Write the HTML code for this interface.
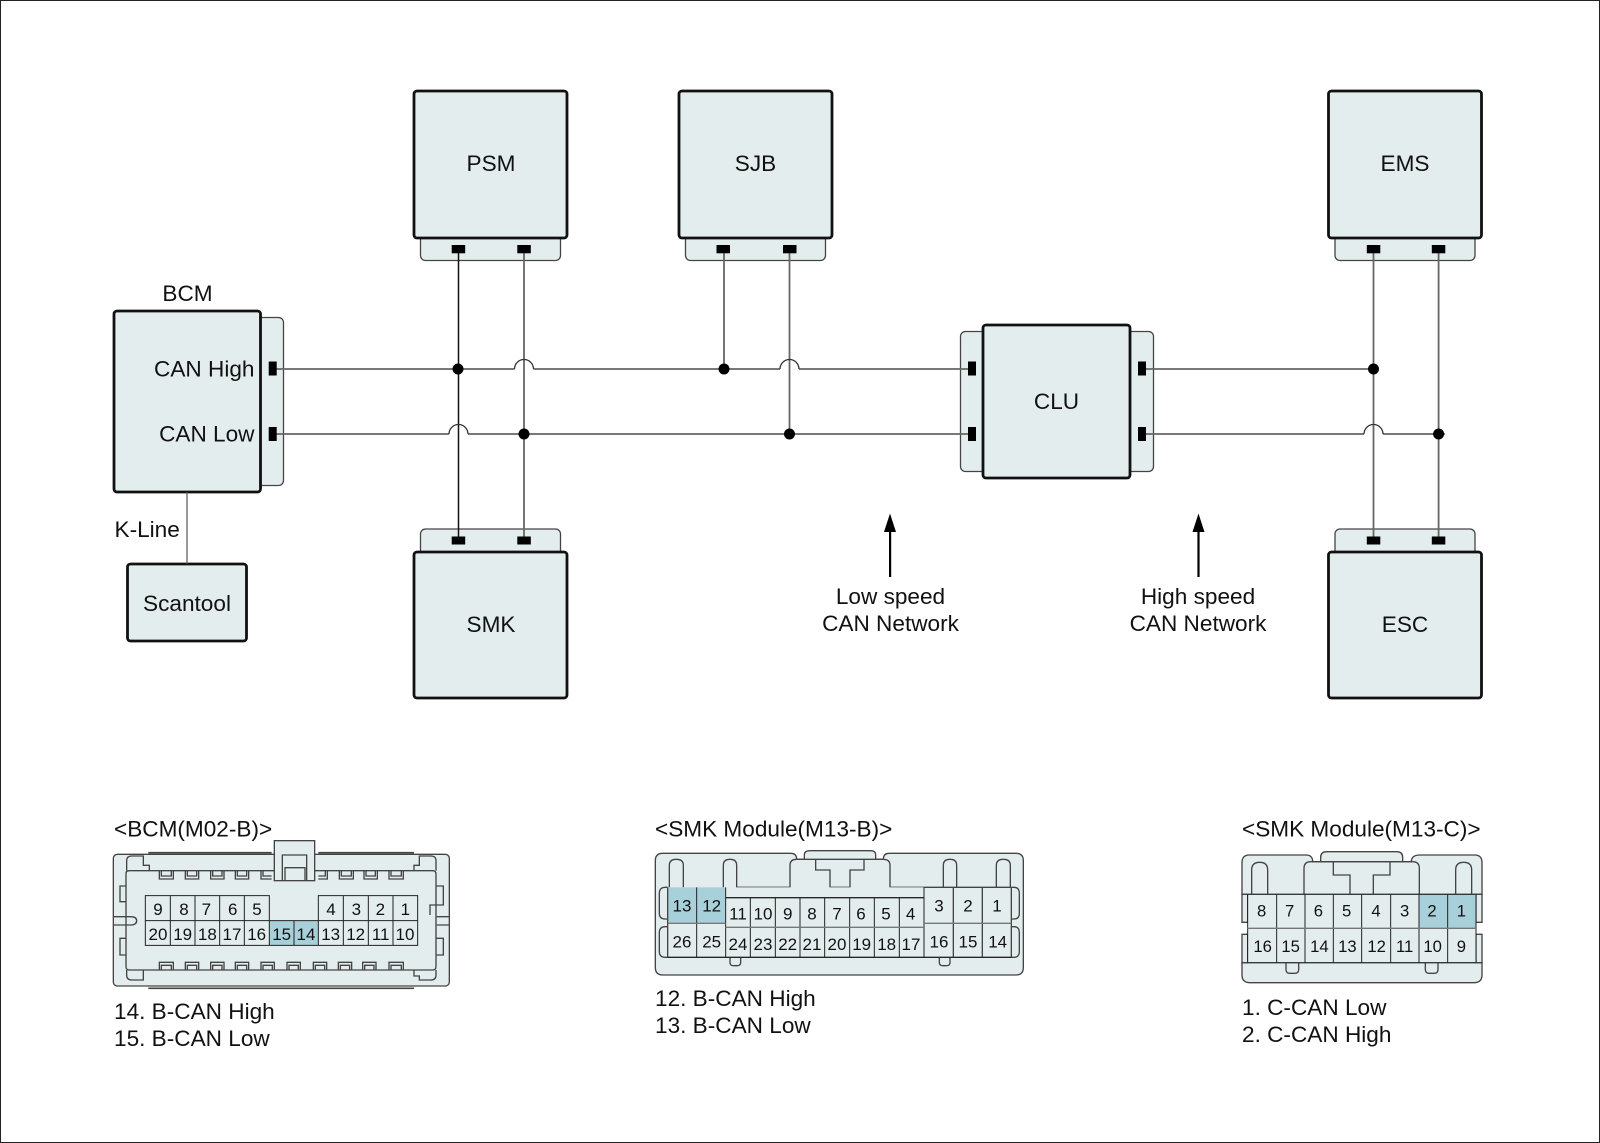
<!DOCTYPE html>
<html><head><meta charset="utf-8"><style>
html,body{margin:0;padding:0;background:#fff}
svg{display:block}
text{font-family:"Liberation Sans",sans-serif;fill:#111}
.m{fill:#e4edee;stroke:#111;stroke-width:2.8}
.t{fill:#e4edee;stroke:#444;stroke-width:1.3}
.b{fill:#000}
.w{fill:none;stroke:#666;stroke-width:1.8}
.n{fill:none;stroke:#333;stroke-width:1.3}
.L{font-size:22.6px}
.c{fill:#e4edee;stroke:#444;stroke-width:4}
.o{fill:none;stroke:#444;stroke-width:4}
.g{fill:none;stroke:#222;stroke-width:3}
.h{fill:#a8d0da;stroke:none}
.d{font-size:51px;text-anchor:middle}
</style></head><body>
<svg xmlns="http://www.w3.org/2000/svg" width="1600" height="1143" viewBox="0 0 1600 1143">
<rect width="1600" height="1143" fill="#fff"/>
<rect x="0.5" y="0.5" width="1599" height="1142" fill="none" stroke="#222" stroke-width="1"/>

<!-- tabs -->
<rect class="t" x="240" y="317.5" width="43.5" height="168" rx="5"/>
<rect class="t" x="420.5" y="225" width="140" height="35.5" rx="5"/>
<rect class="t" x="685.5" y="225" width="140" height="35.5" rx="5"/>
<rect class="t" x="1335" y="225" width="140" height="35.5" rx="5"/>
<rect class="t" x="420.5" y="529" width="140" height="35" rx="5"/>
<rect class="t" x="1335" y="529" width="140" height="35" rx="5"/>
<rect class="t" x="960.5" y="331.5" width="193" height="140" rx="5"/>

<!-- boxes -->
<rect class="m" x="114" y="311" width="146.5" height="181" rx="3"/>
<rect class="m" x="127.5" y="564" width="119" height="77" rx="3"/>
<rect class="m" x="414" y="91" width="153" height="147" rx="3"/>
<rect class="m" x="679" y="91" width="153" height="147" rx="3"/>
<rect class="m" x="1328.5" y="91" width="153" height="147" rx="3"/>
<rect class="m" x="414" y="552" width="153" height="146" rx="3"/>
<rect class="m" x="1328.5" y="552" width="153" height="146" rx="3"/>
<rect class="m" x="983" y="325" width="147" height="153" rx="3"/>

<!-- wires -->
<path class="w" style="stroke:#555;stroke-width:1.2" d="M187 492V564"/>
<path class="w" style="stroke:#111;stroke-width:1.5" d="M458.5 249V539"/>
<path class="w" d="M524 249V539"/>
<path class="w" d="M724 249V369"/>
<path class="w" d="M789.5 249V434"/>
<path class="w" d="M1373.5 249V539"/>
<path class="w" d="M1438.6 249V539"/>
<path class="w" d="M276 369H514.5M533.5 369H780M799 369H970"/>
<path class="w" d="M276 434H449M468 434H970"/>
<path class="w" d="M1145 369H1373.5"/>
<path class="w" d="M1145 434H1364M1383 434H1445"/>
<path class="n" d="M514.5 369A9.5 9.5 0 0 1 533.5 369M780 369A9.5 9.5 0 0 1 799 369M449 434A9.5 9.5 0 0 1 468 434M1364 434A9.5 9.5 0 0 1 1383 434"/>

<!-- junctions -->
<g class="b">
<circle cx="458" cy="369" r="5.5"/><circle cx="724" cy="369" r="5.5"/><circle cx="1373.5" cy="369" r="5.5"/>
<circle cx="524" cy="434" r="5.5"/><circle cx="789.5" cy="434" r="5.5"/><circle cx="1438.6" cy="434" r="5.5"/>
<!-- pins -->
<rect x="268.7" y="361.5" width="8" height="14"/><rect x="268.7" y="427" width="8" height="14"/>
<rect x="968" y="361.5" width="8" height="14"/><rect x="968" y="427" width="8" height="14"/>
<rect x="1138" y="361.5" width="8" height="14"/><rect x="1138" y="427" width="8" height="14"/>
<rect x="451.7" y="245" width="13.5" height="8.3"/><rect x="517.3" y="245" width="13.5" height="8.3"/>
<rect x="716.5" y="245" width="13.5" height="8.3"/><rect x="783" y="245" width="13.5" height="8.3"/>
<rect x="1366.8" y="245" width="13.5" height="8.3"/><rect x="1431.8" y="245" width="13.5" height="8.3"/>
<rect x="451.7" y="536.5" width="13.5" height="8"/><rect x="517.3" y="536.5" width="13.5" height="8"/>
<rect x="1366.8" y="536.5" width="13.5" height="8"/><rect x="1431.8" y="536.5" width="13.5" height="8"/>
<!-- arrows -->
<rect x="889" y="527" width="2.2" height="50"/><path d="M890 513.5L884 532H896Z"/>
<rect x="1197.4" y="527" width="2.2" height="50"/><path d="M1198.5 513.5L1192.5 532H1204.5Z"/>
</g>

<!-- labels -->
<g class="L">
<text x="187.5" y="301" text-anchor="middle">BCM</text>
<text x="254.5" y="376.5" text-anchor="end">CAN High</text>
<text x="254.5" y="441.5" text-anchor="end">CAN Low</text>
<text x="114.5" y="537">K-Line</text>
<text x="187" y="611" text-anchor="middle">Scantool</text>
<text x="491" y="171" text-anchor="middle">PSM</text>
<text x="755.5" y="171" text-anchor="middle">SJB</text>
<text x="1405" y="171" text-anchor="middle">EMS</text>
<text x="491" y="632" text-anchor="middle">SMK</text>
<text x="1405" y="632" text-anchor="middle">ESC</text>
<text x="1056.5" y="409" text-anchor="middle">CLU</text>
<text x="890.5" y="604" text-anchor="middle">Low speed</text>
<text x="890.5" y="631" text-anchor="middle">CAN Network</text>
<text x="1198" y="604" text-anchor="middle">High speed</text>
<text x="1198" y="631" text-anchor="middle">CAN Network</text>
<text x="114" y="836.5">&lt;BCM(M02-B)&gt;</text>
<text x="114" y="1019">14. B-CAN High</text>
<text x="114" y="1046">15. B-CAN Low</text>
<text x="655" y="836.5">&lt;SMK Module(M13-B)&gt;</text>
<text x="655" y="1006">12. B-CAN High</text>
<text x="655" y="1033">13. B-CAN Low</text>
<text x="1242" y="836.5">&lt;SMK Module(M13-C)&gt;</text>
<text x="1242" y="1015">1. C-CAN Low</text>
<text x="1242" y="1042">2. C-CAN High</text>
</g>

<!-- connector BCM -->
<g transform="translate(90 800) scale(.33333)">
<path class="o" d="M175 158H545M685 158H972M175 565H972" style="stroke-width:5"/>
<rect class="c" x="70" y="163" width="1008" height="395" rx="12"/>
<path class="c" d="M108 220Q108 212 118 212H1028Q1038 212 1038 222V500Q1038 510 1028 510H118Q108 510 108 500Z"/>
<path class="o" d="M70 350H122Q140 350 140 362Q140 375 122 375H70"/>
<path class="o" d="M1078 350H1040M1078 375H1040"/>
<path class="o" d="M110 212V182Q110 168 125 168H160V196H178V212"/>
<path class="o" d="M1038 212V182Q1038 168 1023 168H988V196H972V212"/>
<path class="o" d="M110 510V525Q110 540 125 540H160V510"/>
<path class="o" d="M1038 510V525Q1038 540 1023 540H988V528H972V510"/>
<path class="o" d="M108 258H90V305H108M108 415H90V465H108M1038 258H1060V315H1020V345M1038 415H1060V465H1038"/>
<g class="o">
<path d="M208 212V237H250V212M214 212V228H244V212M286 212V237H326V212M292 212V228H320V212M362 212V237H402V212M368 212V228H396V212M436 212V237H476V212M442 212V228H470V212M513 212V237H545M519 212V228H545M685 237H712V212M685 228H706V212M748 212V237H790V212M754 212V228H784V212M822 212V237H862V212M828 212V228H856V212M897 212V237H940V212M903 212V228H934V212"/>
<path d="M208 510V487H250V510M214 510V496H244V510M286 510V487H326V510M292 510V496H320V510M362 510V487H402V510M368 510V496H396V510M436 510V487H476V510M442 510V496H470V510M513 510V487H553V510M519 510V496H547V510M591 510V487H631V510M597 510V496H625V510M670 510V487H710V510M676 510V496H704V510M745 510V487H785V510M751 510V496H779V510M818 510V487H858V510M824 510V496H852V510M897 510V487H940V510M903 510V496H934V510"/>
</g>
<rect class="c" x="553" y="122" width="121" height="120"/>
<path class="o" d="M577 242V165H650V242M585 242V203H645V242"/>
<rect class="h" x="538" y="362" width="147" height="74"/>
<path class="g" d="M166 287H538V362H166ZM685 287H983V362H685ZM166 362H983V436H166ZM241 287V436M315 287V436M389 287V436M463 287V436M538 287V436M612 362V436M685 287V436M760 287V436M835 287V436M909 287V436"/>
<g class="d">
<text x="204" y="345">9</text><text x="282" y="345">8</text><text x="349" y="345">7</text><text x="428" y="345">6</text><text x="501" y="345">5</text><text x="723" y="345">4</text><text x="799" y="345">3</text><text x="871" y="345">2</text><text x="946" y="345">1</text>
<text x="204" y="420">20</text><text x="278" y="420">19</text><text x="352" y="420">18</text><text x="426" y="420">17</text><text x="500" y="420">16</text><text x="575" y="420">15</text><text x="648" y="420">14</text><text x="722" y="420">13</text><text x="797" y="420">12</text><text x="872" y="420">11</text><text x="945" y="420">10</text>
</g>
</g>

<!-- connector M13-B -->
<g transform="translate(640 800) scale(.33333)">
<path class="c" d="M68 160H452Q470 160 470 178H493V165Q493 152 510 152H692Q707 152 707 165V178H730Q730 160 748 160H1128Q1150 160 1150 182V503Q1150 525 1128 525H68Q46 525 46 503V182Q46 160 68 160Z"/>
<path class="o" d="M83 262H76Q58 262 58 280V340Q58 357 76 357H83M83 380H76Q58 380 58 398V455Q58 472 76 472H83M1114 262H1122Q1138 262 1138 280V340Q1138 357 1122 357H1114M1114 380H1122Q1138 380 1138 398V455Q1138 472 1122 472H1114"/>
<path class="o" d="M88 262V196Q88 178 109 178Q130 178 130 196V262M250 262V196Q250 178 270 178Q290 178 290 196V262H450V196Q450 178 470 178H730Q750 178 750 196V262H852M910 262V196Q910 178 930 178Q950 178 950 196V262M1069 262V196Q1069 178 1090 178Q1111 178 1111 196V262"/>
<path class="o" d="M527 178V210H570V262H630V210H672V178"/>
<path class="o" d="M270 472V488Q270 497 280 497H292Q302 497 302 488V472M898 472V488Q898 497 908 497H920Q930 497 930 488V472"/>
<rect x="83" y="262" width="769" height="210" fill="#e4edee"/><rect x="852" y="262" width="262" height="210" fill="#e4edee"/>
<rect class="h" x="83" y="262" width="174" height="108"/>
<path class="o" d="M852 262H1114M257 293H852M83 472H1114M83 262V472M1114 262V472M940 262V472M1027 262V472"/>
<path class="g" d="M170 262V472M257 262V472M331 293V472M406 293V472M480 293V472M554 293V472M629 293V472M703 293V472M778 293V472M852 262V472M257 293H852M83 472H1114"/>
<path class="o" style="stroke:#777" d="M83 370H257M852 370H1114M257 382H852"/>
<g class="d">
<text x="126" y="334">13</text><text x="215" y="334">12</text><text x="294" y="358">11</text><text x="369" y="358">10</text><text x="443" y="358">9</text><text x="516" y="358">8</text><text x="591" y="358">7</text><text x="663" y="358">6</text><text x="738" y="358">5</text><text x="812" y="358">4</text><text x="897" y="334">3</text><text x="984" y="334">2</text><text x="1071" y="334">1</text>
<text x="126" y="442">26</text><text x="215" y="442">25</text><text x="294" y="450">24</text><text x="369" y="450">23</text><text x="443" y="450">22</text><text x="516" y="450">21</text><text x="591" y="450">20</text><text x="665" y="450">19</text><text x="740" y="450">18</text><text x="813" y="450">17</text><text x="897" y="442">16</text><text x="984" y="442">15</text><text x="1073" y="442">14</text>
</g>
</g>

<!-- connector M13-C -->
<g transform="translate(1220 800) scale(.33333)">
<path class="c" d="M302 186V172Q302 155 320 155H530Q548 155 548 172V186Z"/>
<path class="c" d="M66 283V188Q66 165 88 165H258Q278 165 278 185H574Q574 165 600 165H764Q786 165 786 188V283Z"/>
<path class="c" d="M66 488V525Q66 548 90 548H762Q786 548 786 525V488Z"/>
<path class="o" d="M95 283V210Q95 187 119 187Q143 187 143 210V283M707 283V210Q707 187 731 187Q755 187 755 210V283"/>
<path class="o" d="M252 283V205Q252 185 272 185H578Q598 185 598 205V283"/>
<path class="o" d="M340 185V225H390V283M460 283V225H510V185"/>
<path class="o" d="M198 488V508Q198 520 210 520H224Q236 520 236 508V488M616 488V508Q616 520 628 520H642Q654 520 654 508V488"/>
<path class="c" d="M83 283H66V367H83ZM83 403H66V488H83ZM768 283H786V367H768ZM768 403H786V488H768Z"/>
<rect x="83" y="283" width="685" height="205" fill="#e4edee"/>
<rect class="h" x="597" y="283" width="171" height="102"/>
<path class="g" d="M83 283V488M170 283V488M255 283V488M340 283V488M425 283V488M512 283V488M597 283V488M683 283V488M768 283V488M83 488H768M83 283H768"/>
<path class="o" style="stroke:#777" d="M83 385H768"/>
<g class="d" style="font-size:50px">
<text x="125" y="350">8</text><text x="209" y="350">7</text><text x="295" y="350">6</text><text x="380" y="350">5</text><text x="468" y="350">4</text><text x="554" y="350">3</text><text x="636" y="350">2</text><text x="724" y="350">1</text>
<text x="128" y="456">16</text><text x="212" y="456">15</text><text x="298" y="456">14</text><text x="382" y="456">13</text><text x="470" y="456">12</text><text x="554" y="456">11</text><text x="638" y="456">10</text><text x="724" y="456">9</text>
</g>
</g>
</svg>
</body></html>
